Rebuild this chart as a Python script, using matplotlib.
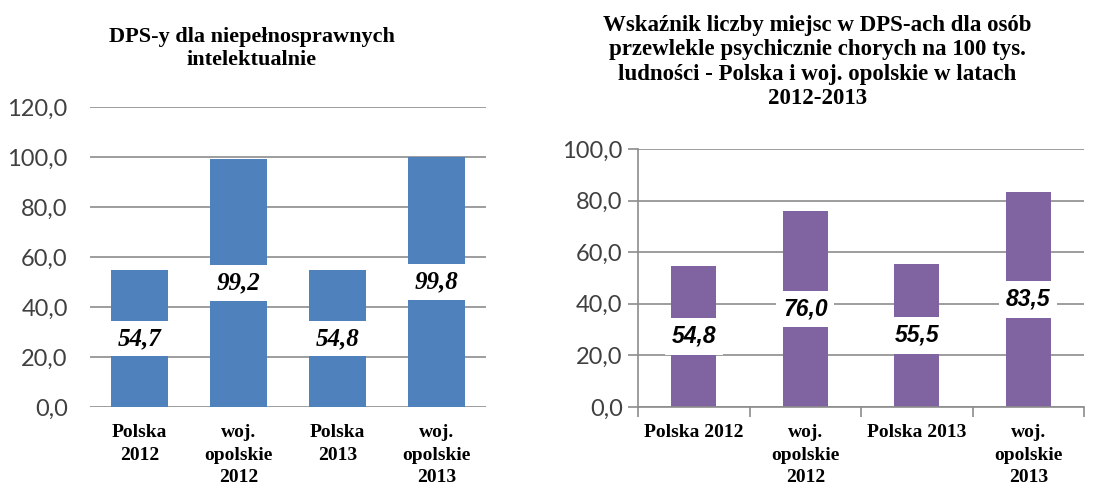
import matplotlib
matplotlib.use("Agg")
import matplotlib.pyplot as plt

# ---- data ----
left_categories = ["Polska\n2012", "woj.\nopolskie\n2012", "Polska\n2013", "woj.\nopolskie\n2013"]
left_values = [54.7, 99.2, 54.8, 99.8]
left_title = "DPS-y dla niepełnosprawnych\nintelektualnie"
left_yticks = [0, 20, 40, 60, 80, 100, 120]

right_categories = ["Polska 2012", "woj.\nopolskie\n2012", "Polska 2013", "woj.\nopolskie\n2013"]
right_values = [54.8, 76.0, 55.5, 83.5]
right_title = ("Wskaźnik liczby miejsc w DPS-ach dla osób\n"
               "przewlekle psychicznie chorych na 100 tys.\n"
               "ludności - Polska i woj. opolskie w latach\n2012-2013")
right_yticks = [0, 20, 40, 60, 80, 100]

fmt = lambda v: f"{v:.1f}".replace(".", ",")

serif = "Liberation Serif"
tick_font = "Lato"
grid_col = "#8c8c8c"
tick_col = "#404040"

fig = plt.figure(figsize=(11, 4.88), dpi=100)

# ---- left chart ----
axL = fig.add_axes([0.0818, 0.166, 0.36, 0.6148])
xL = list(range(len(left_values)))
axL.bar(xL, left_values, width=0.57, color="#4F81BD", zorder=2)
axL.set_xlim(-0.5, len(left_values) - 0.5)
axL.set_ylim(0, 120)
axL.set_yticks(left_yticks)
axL.set_yticklabels([fmt(v) for v in left_yticks], fontfamily=tick_font, fontsize=17, color=tick_col)
axL.set_xticks(xL)
axL.set_xticklabels(left_categories, fontfamily=serif, fontweight="bold", fontsize=14,
                    linespacing=1.45, va="top")
axL.tick_params(axis="both", length=0)
axL.tick_params(axis="y", pad=16)
axL.tick_params(axis="x", pad=12)
axL.grid(axis="y", color=grid_col, linewidth=1.2, zorder=0)
for s in axL.spines.values():
    s.set_visible(False)
for x, v in zip(xL, left_values):
    axL.text(x, v / 2, fmt(v), ha="center", va="center", fontfamily=serif,
             fontweight="bold", fontstyle="italic", fontsize=18, zorder=3,
             bbox=dict(boxstyle="square,pad=0.25", facecolor="white", edgecolor="none"))
fig.text(0.229, 0.9, left_title, ha="center", va="center", fontfamily=serif,
         fontweight="bold", fontsize=16, linespacing=1.2)

# ---- right chart ----
axR = fig.add_axes([0.58, 0.166, 0.4055, 0.5287])
xR = list(range(len(right_values)))
axR.bar(xR, right_values, width=0.40, color="#8064A2", zorder=2)
axR.set_xlim(-0.5, len(right_values) - 0.5)
axR.set_ylim(0, 100)
axR.set_yticks(right_yticks)
axR.set_yticklabels([fmt(v) for v in right_yticks], fontfamily=tick_font, fontsize=17, color=tick_col)
axR.set_xticks(xR)
axR.set_xticklabels(right_categories, fontfamily=serif, fontweight="bold", fontsize=14,
                    linespacing=1.45, va="top")
axR.set_xticks([i + 0.5 for i in range(-1, len(right_values))], minor=True)
axR.tick_params(axis="x", which="major", length=0, pad=12)
axR.tick_params(axis="x", which="minor", length=7, color=grid_col, width=1.2, direction="out")
axR.tick_params(axis="y", length=7, color=grid_col, width=1.2, pad=4)
axR.grid(axis="y", color=grid_col, linewidth=1.2, zorder=0)
for k in ["top", "right"]:
    axR.spines[k].set_visible(False)
for k in ["left", "bottom"]:
    axR.spines[k].set_color(grid_col)
    axR.spines[k].set_linewidth(1.2)
for x, v in zip(xR, right_values):
    axR.text(x, v / 2, fmt(v), ha="center", va="center", fontfamily="Liberation Sans",
             fontweight="bold", fontstyle="italic", fontsize=16.5, zorder=3,
             bbox=dict(boxstyle="square,pad=0.3", facecolor="white", edgecolor="none"))
fig.text(0.743, 0.873, right_title, ha="center", va="center", fontfamily=serif,
         fontweight="bold", fontsize=16.5, linespacing=1.2)

fig.savefig("out.png", dpi=100, facecolor="white")
